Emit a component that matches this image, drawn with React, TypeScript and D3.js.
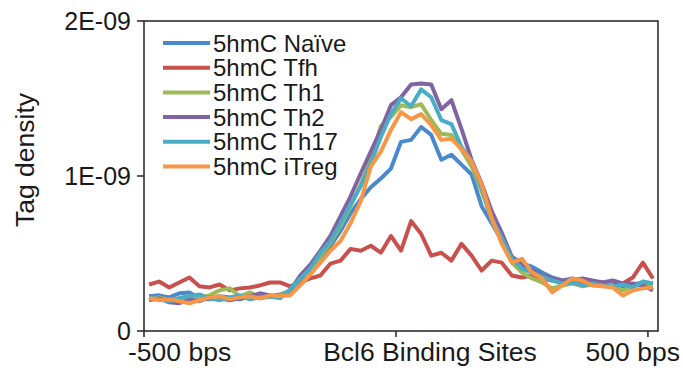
import * as d3 from "d3";

// bins around the Bcl6 binding sites, in bp
const positions = d3.range(-500, 501, 20);

// tag density, in units of 1E-09
const naive = [
  0.224, 0.230, 0.217, 0.243, 0.249, 0.211, 0.204, 0.224, 0.217, 0.204, 0.224, 0.211, 0.224, 0.236,
  0.256, 0.326, 0.390, 0.473, 0.550, 0.645, 0.760, 0.850, 0.927, 0.984, 1.048, 1.220, 1.233, 1.316,
  1.265, 1.105, 1.137, 1.073, 1.010, 0.805, 0.696, 0.581, 0.479, 0.435, 0.415, 0.377, 0.345, 0.326,
  0.339, 0.326, 0.319, 0.300, 0.294, 0.281, 0.300, 0.313, 0.307,
];
const tfh = [
  0.300, 0.319, 0.281, 0.313, 0.345, 0.288, 0.281, 0.300, 0.262, 0.275, 0.281, 0.294, 0.313, 0.313,
  0.288, 0.313, 0.339, 0.358, 0.435, 0.454, 0.530, 0.518, 0.550, 0.505, 0.613, 0.518, 0.709, 0.626,
  0.486, 0.505, 0.454, 0.562, 0.486, 0.390, 0.454, 0.441, 0.358, 0.345, 0.358, 0.339, 0.326, 0.313,
  0.326, 0.319, 0.307, 0.313, 0.300, 0.307, 0.345, 0.441, 0.339,
];
const th1 = [
  0.204, 0.217, 0.198, 0.211, 0.224, 0.217, 0.230, 0.262, 0.275, 0.224, 0.249, 0.217, 0.217, 0.230,
  0.262, 0.339, 0.390, 0.486, 0.569, 0.677, 0.805, 0.946, 1.105, 1.323, 1.380, 1.457, 1.444, 1.463,
  1.361, 1.272, 1.265, 1.169, 1.061, 0.901, 0.722, 0.581, 0.441, 0.377, 0.339, 0.313, 0.275, 0.294,
  0.307, 0.288, 0.300, 0.313, 0.294, 0.262, 0.288, 0.307, 0.294,
];
const th2 = [
  0.198, 0.211, 0.185, 0.179, 0.204, 0.192, 0.217, 0.211, 0.198, 0.211, 0.224, 0.243, 0.230, 0.217,
  0.262, 0.358, 0.428, 0.518, 0.613, 0.741, 0.869, 1.016, 1.157, 1.297, 1.457, 1.508, 1.591, 1.597,
  1.591, 1.431, 1.489, 1.304, 1.105, 0.952, 0.773, 0.633, 0.479, 0.422, 0.390, 0.358, 0.339, 0.326,
  0.326, 0.339, 0.326, 0.313, 0.326, 0.307, 0.307, 0.294, 0.262,
];
const th17 = [
  0.217, 0.204, 0.192, 0.211, 0.224, 0.236, 0.211, 0.198, 0.217, 0.230, 0.204, 0.217, 0.224, 0.211,
  0.268, 0.339, 0.403, 0.505, 0.581, 0.696, 0.818, 0.933, 1.080, 1.252, 1.399, 1.502, 1.450, 1.559,
  1.508, 1.361, 1.335, 1.188, 1.093, 0.920, 0.728, 0.601, 0.466, 0.403, 0.377, 0.351, 0.326, 0.307,
  0.313, 0.294, 0.307, 0.294, 0.288, 0.300, 0.281, 0.319, 0.307,
];
const itreg = [
  0.211, 0.198, 0.204, 0.192, 0.179, 0.198, 0.217, 0.224, 0.204, 0.217, 0.224, 0.211, 0.230, 0.224,
  0.230, 0.294, 0.364, 0.441, 0.518, 0.581, 0.696, 0.837, 1.061, 1.157, 1.297, 1.412, 1.367, 1.399,
  1.329, 1.233, 1.240, 1.176, 1.093, 0.946, 0.728, 0.562, 0.441, 0.466, 0.377, 0.339, 0.249, 0.294,
  0.339, 0.326, 0.294, 0.288, 0.281, 0.230, 0.262, 0.275, 0.281,
];

const seriesNames = ["5hmC Naïve", "5hmC Tfh", "5hmC Th1", "5hmC Th2", "5hmC Th17", "5hmC iTreg"];
const seriesValues = [naive, tfh, th1, th2, th17, itreg];
const colors = ["#4A89CC", "#C8504D", "#9BBB59", "#8064A2", "#4BACC6", "#F79646"];

const yTicks = [0, 1, 2];
const yTickLabels = ["0", "1E-09", "2E-09"];
const xTicks = [-500, 0, 500];
const xTickLabels = ["-500 bps", "Bcl6 Binding Sites", "500 bps"];

const W = 683;
const H = 370;
const left = 144, right = 658, top = 21, bottom = 331;
const font = "'Liberation Sans', Arial, sans-serif";

export default function App() {
  const x = d3.scaleBand<number>().domain(positions).range([left, right]);
  const y = d3.scaleLinear().domain([0, 2]).range([bottom, top]);
  const cx = (p: number) => (x(p) as number) + x.bandwidth() / 2;

  const line = d3.line<number>()
    .x((d, i) => cx(positions[i]))
    .y(d => y(d));

  // label placement under the x ticks (start / middle / end)
  const xLabelPos = [
    { dx: -16, anchor: "start" },
    { dx: 34, anchor: "middle" },
    { dx: 32, anchor: "end" },
  ];

  return (
    <svg width={W} height={H} style={{ position: "absolute", left: 0, top: 0, background: "#fff" }}
      fontFamily={font}>
      {seriesValues.map((vals, k) => (
        <path key={k} d={line(vals) || ""} fill="none" stroke={colors[k]}
          strokeWidth={4} strokeLinejoin="round" />
      ))}

      <rect x={left} y={top} width={right - left} height={bottom - top}
        fill="none" stroke="#222" strokeWidth={1.5} />

      {yTicks.map((t, i) => (
        <g key={t}>
          <line x1={left - 7} x2={left} y1={y(t)} y2={y(t)} stroke="#222" strokeWidth={1.5} />
          <text x={left - 13} y={y(t)} dy="0.35em" textAnchor="end" fontSize={25} fill="#1a1a1a">
            {yTickLabels[i]}
          </text>
        </g>
      ))}

      {xTicks.map((t, i) => (
        <g key={t}>
          <line x1={x(t)} x2={x(t)} y1={bottom} y2={bottom + 6} stroke="#222" strokeWidth={1.5} />
          <text x={(x(t) as number) + xLabelPos[i].dx} y={361} textAnchor={xLabelPos[i].anchor}
            fontSize={26.5} fill="#1a1a1a">
            {xTickLabels[i]}
          </text>
        </g>
      ))}

      <text transform={`translate(34,160) rotate(-90)`} textAnchor="middle" fontSize={26.5} fill="#1a1a1a">
        Tag density
      </text>

      {seriesNames.map((name, k) => (
        <g key={name} transform={`translate(163,${43 + k * 24.7})`}>
          <line x1={0} x2={47} y1={0} y2={0} stroke={colors[k]} strokeWidth={4} />
          <text x={50} y={0} dy="0.36em" fontSize={24} fill="#1a1a1a">{name}</text>
        </g>
      ))}
    </svg>
  );
}
